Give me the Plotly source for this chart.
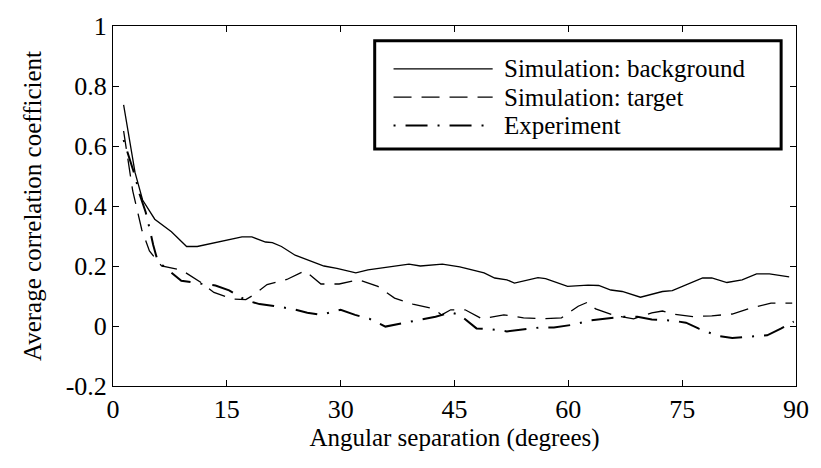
import plotly.graph_objects as go

# Simulation: background (solid)
bg_x = [1.4, 2.9, 3.9, 5.5, 7.7, 9.7, 11.1, 13.1, 15.0, 17.0, 18.3, 20.1, 21.0, 22.2, 24.0,
        26.0, 27.8, 29.5, 31.0, 32.0, 33.6, 35.3, 37.1, 39.0, 40.5, 43.4, 45.7, 47.5, 48.9,
        50.3, 51.9, 52.9, 54.5, 56.0, 57.0, 58.6, 59.9, 62.6, 64.0, 65.6, 67.1, 69.5, 72.4,
        73.7, 77.7, 78.9, 80.9, 82.9, 84.8, 86.5, 89.1]
bg_y = [0.737, 0.512, 0.42, 0.356, 0.314, 0.265, 0.265, 0.275, 0.285, 0.297, 0.297, 0.28,
        0.278, 0.265, 0.236, 0.216, 0.20, 0.192, 0.184, 0.177, 0.187, 0.193, 0.20, 0.206,
        0.20, 0.206, 0.197, 0.187, 0.177, 0.16, 0.154, 0.143, 0.151, 0.161, 0.158, 0.145,
        0.132, 0.136, 0.135, 0.12, 0.115, 0.096, 0.115, 0.118, 0.16, 0.16, 0.145, 0.154,
        0.174, 0.174, 0.164]

# Simulation: target (dashed)
tg_x = [1.4, 2.6, 3.8, 4.8, 6.4, 9.0, 11.6, 13.3, 15.7, 17.5, 18.3, 20.3, 22.9, 25.3, 27.4,
        29.8, 32.4, 34.9, 37.1, 39.5, 42.3, 43.3, 44.5, 46.4, 48.6, 51.5, 54.1, 56.7, 59.1,
        61.3, 62.6, 63.6, 66.2, 68.6, 71.0, 72.4, 73.8, 76.4, 78.9, 81.6, 84.1, 86.7, 89.5]
tg_y = [0.65, 0.45, 0.32, 0.25, 0.20, 0.187, 0.145, 0.112, 0.09, 0.088, 0.10, 0.138, 0.155,
        0.184, 0.14, 0.14, 0.154, 0.132, 0.093, 0.073, 0.057, 0.037, 0.054, 0.054, 0.024,
        0.037, 0.027, 0.024, 0.027, 0.066, 0.08, 0.057, 0.034, 0.024, 0.044, 0.05, 0.04,
        0.031, 0.034, 0.04, 0.06, 0.076, 0.076]

# Experiment (dash-dot)
ex_x = [1.4, 2.9, 3.5, 4.3, 4.8, 5.3, 5.9, 7.4, 9.0, 11.6, 13.5, 15.3, 17.5, 19.3, 21.2,
        23.8, 25.6, 27.4, 30.0, 31.9, 33.8, 35.9, 38.0, 39.8, 42.5, 44.5, 45.7, 47.9, 49.9,
        51.9, 54.1, 56.2, 58.1, 60.8, 62.7, 64.5, 67.1, 69.1, 71.0, 73.7, 75.5, 77.2, 79.7,
        81.6, 83.6, 86.2, 88.0, 89.7]
ex_y = [0.62, 0.50, 0.44, 0.38, 0.327, 0.27, 0.215, 0.185, 0.151, 0.141, 0.135, 0.119,
        0.086, 0.073, 0.067, 0.056, 0.044, 0.037, 0.054, 0.037, 0.024, -0.002, 0.008, 0.018,
        0.031, 0.045, 0.037, -0.008, -0.011, -0.018, -0.011, -0.005, -0.005, 0.005, 0.018,
        0.024, 0.031, 0.031, 0.022, 0.018, 0.011, -0.009, -0.033, -0.04, -0.037, -0.031,
        -0.009, 0.015]

series_names = ["Simulation: background", "Simulation: target", "Experiment"]
x_ticks = [0, 15, 30, 45, 60, 75, 90]
y_ticks = [-0.2, 0, 0.2, 0.4, 0.6, 0.8, 1]
y_tick_text = ["-0.2", "0", "0.2", "0.4", "0.6", "0.8", "1"]

FONT = "Liberation Serif"
dashes = ["solid", "18px,10px", "2px,10px,22px,10px"]
widths = [1.3, 1.3, 2.0]

fig = go.Figure()
for name, xs, ys, d, w in zip(series_names, [bg_x, tg_x, ex_x], [bg_y, tg_y, ex_y], dashes, widths):
    fig.add_trace(go.Scatter(x=xs, y=ys, mode="lines", name=name, showlegend=False,
                             line=dict(color="black", width=w, dash=d)))

# legend drawn as decoration in paper coordinates
W, H = 821, 468
ml, mr, mt, mb = 113, 19, 17, 82
pw, ph = W - ml - mr, H - mt - mb
def px(xp):
    return (xp - ml) / pw
def py(yp):
    return 1 - (yp - mt) / ph

fig.add_shape(type="rect", xref="paper", yref="paper", x0=px(377), x1=px(787), y0=py(143), y1=py(32),
              line=dict(color="black", width=3), fillcolor="white", layer="above")
rows_y = [61, 90, 119]
for name, d, w, ry in zip(series_names, dashes, widths, rows_y):
    fig.add_shape(type="line", xref="paper", yref="paper", x0=px(396), x1=px(496), y0=py(ry), y1=py(ry),
                  line=dict(color="black", width=w, dash=d), layer="above")
    fig.add_annotation(x=px(505), y=py(ry), xref="paper", yref="paper", text=name, showarrow=False,
                       xanchor="left", yanchor="middle", font=dict(family=FONT, size=25, color="black"))

fig.update_layout(
    width=W, height=H,
    margin=dict(l=ml, r=mr, t=mt, b=mb),
    paper_bgcolor="white", plot_bgcolor="white",
    font=dict(family=FONT, size=26, color="black"),
    showlegend=False,
)
fig.update_xaxes(range=[0, 90], tickvals=x_ticks, ticks="inside", ticklen=6, tickcolor="black",
                 showline=True, linecolor="black", linewidth=1, mirror="ticks", showgrid=False,
                 zeroline=False, title=dict(text="Angular separation (degrees)", standoff=2,
                                            font=dict(family=FONT, size=25, color="black")),
                 tickfont=dict(family=FONT, size=26, color="black"))
fig.update_yaxes(range=[-0.2, 1], tickvals=y_ticks, ticktext=y_tick_text, ticks="inside", ticklen=6,
                 tickcolor="black", showline=True, linecolor="black", linewidth=1, mirror="ticks",
                 showgrid=False, zeroline=False,
                 title=dict(text="Average correlation coefficient", standoff=16,
                            font=dict(family=FONT, size=25, color="black")),
                 tickfont=dict(family=FONT, size=26, color="black"))

fig.write_html("out.html")
